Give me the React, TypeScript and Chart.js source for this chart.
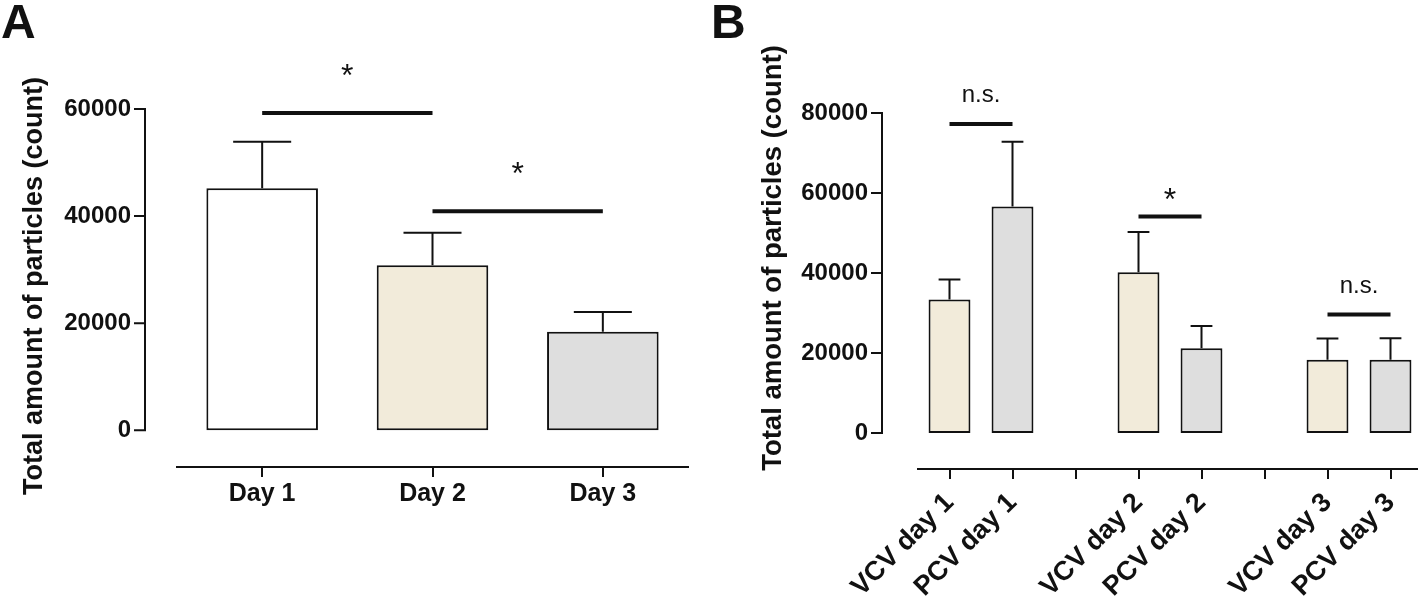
import React, { useEffect, useRef } from 'react';
import { Chart, registerables } from 'chart.js';

Chart.register(...registerables);

// ---------- data ----------
const CATEGORIES_A = ['Day 1', 'Day 2', 'Day 3'];
const MEANS_A = [45200, 30800, 18400];
const UPPER_ERR_A = [53900, 36900, 22100];
const Y_TICKS_A = [0, 20000, 40000, 60000];
const SIG_FROM_A = [0, 1];
const SIG_TO_A = [1, 2];
const SIG_VALUE_A = [59250, 40900];
const SIG_LABEL_A = ['*', '*'];

const CATEGORIES_B = ['VCV day 1', 'PCV day 1', '', 'VCV day 2', 'PCV day 2', '', 'VCV day 3', 'PCV day 3'];
const MEANS_B = [33400, 56600, null, 40200, 21200, null, 18300, 18300];
const UPPER_ERR_B = [38400, 72800, null, 50250, 26750, null, 23600, 23700];
const Y_TICKS_B = [0, 20000, 40000, 60000, 80000];
const SIG_FROM_B = [0, 3, 6];
const SIG_TO_B = [1, 4, 7];
const SIG_VALUE_B = [77250, 54100, 29600];
const SIG_LABEL_B = ['n.s.', '*', 'n.s.'];

const Y_TITLE = 'Total amount of particles (count)';

// ---------- styles ----------
const INK = '#111111';
const WHITE = '#ffffff';
const BEIGE = '#f2ebda';
const GREY = '#dedede';
const COLORS_A = [WHITE, BEIGE, GREY];
const COLORS_B = [BEIGE, GREY, WHITE, BEIGE, GREY, WHITE, BEIGE, GREY];
const FONT = "'Liberation Sans', Arial, Helvetica, sans-serif";

type PanelCfg = {
  letter: string;
  letterX: number;
  labels: string[];
  means: (number | null)[];
  errors: (number | null)[];
  colors: string[];
  yTicks: number[];
  yMin: number;
  yMax: number;
  sigFrom: number[];
  sigTo: number[];
  sigValue: number[];
  sigLabel: string[];
  sigGap: Record<string, number>;
  top: number;
  right: number;
  yWidth: number;
  yPad: number;
  axisGap: number;
  xHeight: number;
  xFont: number;
  xPad: number;
  rot: number;
  barPct: number;
  titleX: number;
  titleY: number;
  titleSize: number;
};

function overlay(p: PanelCfg) {
  return {
    id: 'overlay' + p.letter,
    afterDraw(chart: any) {
      const ctx: CanvasRenderingContext2D = chart.ctx;
      const area = chart.chartArea;
      const xs = chart.scales.x;
      const ys = chart.scales.y;
      ctx.save();
      ctx.strokeStyle = INK;
      ctx.fillStyle = INK;
      ctx.lineCap = 'butt';

      // y axis line + tick marks
      const ax = area.left - p.axisGap;
      const yb = ys.getPixelForValue(p.yTicks[0]);
      const yt = ys.getPixelForValue(p.yTicks[p.yTicks.length - 1]);
      ctx.lineWidth = 2;
      ctx.beginPath();
      ctx.moveTo(ax, yb + 1);
      ctx.lineTo(ax, yt - 1);
      p.yTicks.forEach((v) => {
        const py = ys.getPixelForValue(v);
        ctx.moveTo(ax - 11, py);
        ctx.lineTo(ax + 1, py);
      });
      ctx.stroke();

      // error bars (upper only)
      const meta = chart.getDatasetMeta(0);
      meta.data.forEach((el: any, i: number) => {
        const e = p.errors[i];
        if (e == null || p.means[i] == null) return;
        const props = el.getProps(['x', 'y', 'width'], true);
        const ey = ys.getPixelForValue(e);
        const half = props.width * 0.26;
        ctx.lineWidth = 2;
        ctx.beginPath();
        ctx.moveTo(props.x, props.y);
        ctx.lineTo(props.x, ey);
        ctx.moveTo(props.x - half, ey);
        ctx.lineTo(props.x + half, ey);
        ctx.stroke();
      });

      // significance brackets
      p.sigValue.forEach((v, i) => {
        const x1 = xs.getPixelForValue(p.sigFrom[i]);
        const x2 = xs.getPixelForValue(p.sigTo[i]);
        const py = ys.getPixelForValue(v);
        ctx.lineWidth = 4;
        ctx.beginPath();
        ctx.moveTo(x1, py);
        ctx.lineTo(x2, py);
        ctx.stroke();
        const lab = p.sigLabel[i];
        ctx.font = lab === '*' ? `32px ${FONT}` : `24px ${FONT}`;
        ctx.textAlign = 'center';
        ctx.textBaseline = 'alphabetic';
        ctx.fillText(lab, (x1 + x2) / 2, py - p.sigGap[lab]);
      });

      // y title
      ctx.save();
      ctx.translate(p.titleX, p.titleY);
      ctx.rotate(-Math.PI / 2);
      ctx.font = `bold ${p.titleSize}px ${FONT}`;
      ctx.textAlign = 'center';
      ctx.textBaseline = 'alphabetic';
      ctx.fillText(Y_TITLE, 0, 0);
      ctx.restore();

      // panel letter
      ctx.font = `bold 48px ${FONT}`;
      ctx.textAlign = 'left';
      ctx.textBaseline = 'alphabetic';
      ctx.fillText(p.letter, p.letterX, 38);
      ctx.restore();
    },
  };
}

function buildConfig(p: PanelCfg): any {
  return {
    type: 'bar',
    data: {
      labels: p.labels,
      datasets: [
        {
          data: p.means,
          backgroundColor: p.colors,
          borderColor: INK,
          borderWidth: 2,
          borderSkipped: false,
          barPercentage: p.barPct,
          categoryPercentage: 1,
        },
      ],
    },
    options: {
      responsive: false,
      animation: false,
      devicePixelRatio: 1,
      layout: { padding: { top: p.top, right: p.right, left: 0, bottom: 0 } },
      plugins: { legend: { display: false }, tooltip: { enabled: false } },
      scales: {
        x: {
          type: 'category',
          offset: true,
          border: { display: true, color: INK, width: 2 },
          grid: {
            display: true,
            drawOnChartArea: false,
            drawTicks: true,
            tickLength: 10,
            offset: false,
            color: INK,
            lineWidth: 2,
          },
          ticks: {
            color: INK,
            font: { family: FONT, size: p.xFont, weight: 'bold' },
            padding: p.xPad,
            minRotation: p.rot,
            maxRotation: p.rot,
            autoSkip: false,
          },
          afterFit: (s: any) => {
            s.height = p.xHeight;
          },
        },
        y: {
          type: 'linear',
          min: p.yMin,
          max: p.yMax,
          afterBuildTicks: (s: any) => {
            s.ticks = p.yTicks.map((v) => ({ value: v }));
          },
          border: { display: false },
          grid: { display: false, drawTicks: false },
          ticks: {
            color: INK,
            font: { family: FONT, size: 24, weight: 'bold' },
            padding: p.yPad,
            callback: (v: any) => String(v),
          },
          afterFit: (s: any) => {
            s.width = p.yWidth;
          },
        },
      },
    },
    plugins: [overlay(p)],
  };
}

const PANEL_A: PanelCfg = {
  letter: 'A',
  letterX: 1,
  labels: CATEGORIES_A,
  means: MEANS_A,
  errors: UPPER_ERR_A,
  colors: COLORS_A,
  yTicks: Y_TICKS_A,
  yMin: -6860,
  yMax: 60000,
  sigFrom: SIG_FROM_A,
  sigTo: SIG_TO_A,
  sigValue: SIG_VALUE_A,
  sigLabel: SIG_LABEL_A,
  sigGap: { '*': 27, 'n.s.': 22 },
  top: 109,
  right: 12,
  yWidth: 177,
  yPad: 46,
  axisGap: 32,
  xHeight: 133,
  xFont: 25,
  xPad: 2,
  rot: 0,
  barPct: 0.655,
  titleX: 42,
  titleY: 286,
  titleSize: 27,
};

const PANEL_B: PanelCfg = {
  letter: 'B',
  letterX: 11,
  labels: CATEGORIES_B,
  means: MEANS_B,
  errors: UPPER_ERR_B,
  colors: COLORS_B,
  yTicks: Y_TICKS_B,
  yMin: -9000,
  yMax: 80000,
  sigFrom: SIG_FROM_B,
  sigTo: SIG_TO_B,
  sigValue: SIG_VALUE_B,
  sigLabel: SIG_LABEL_B,
  sigGap: { '*': 7, 'n.s.': 22 },
  top: 113,
  right: 0,
  yWidth: 218,
  yPad: 50,
  axisGap: 36,
  xHeight: 131,
  xFont: 27,
  xPad: 8,
  rot: 45,
  barPct: 0.665,
  titleX: 81,
  titleY: 258,
  titleSize: 27.5,
};

export default function App() {
  const refA = useRef<HTMLCanvasElement>(null);
  const refB = useRef<HTMLCanvasElement>(null);

  useEffect(() => {
    const a = new Chart(refA.current as HTMLCanvasElement, buildConfig(PANEL_A));
    const b = new Chart(refB.current as HTMLCanvasElement, buildConfig(PANEL_B));
    return () => {
      a.destroy();
      b.destroy();
    };
  }, []);

  return (
    <div
      style={{
        position: 'absolute',
        left: 0,
        top: 0,
        width: 1418,
        height: 600,
        overflow: 'hidden',
        background: '#ffffff',
      }}
    >
      <canvas
        ref={refA}
        width={700}
        height={600}
        style={{ position: 'absolute', left: 0, top: 0, width: 700, height: 600 }}
      />
      <canvas
        ref={refB}
        width={722}
        height={600}
        style={{ position: 'absolute', left: 700, top: 0, width: 722, height: 600 }}
      />
    </div>
  );
}
